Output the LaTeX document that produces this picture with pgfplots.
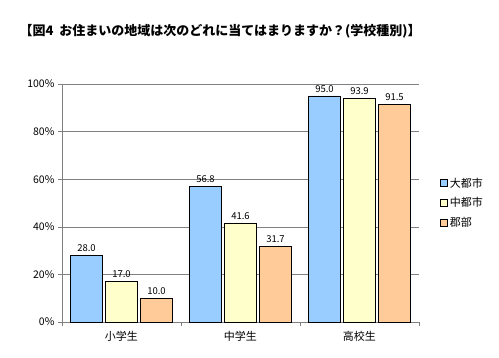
\documentclass[border=0pt]{standalone}
\usepackage{pgfplots}
\pgfplotsset{compat=1.18}
\usepackage{fontspec}
\setmainfont{Noto Sans CJK JP}
\definecolor{cblue}{HTML}{99CCFF}
\definecolor{cyel}{HTML}{FFFFCC}
\definecolor{corg}{HTML}{FFCC99}
\definecolor{gridc}{HTML}{808080}
\begin{document}
\begin{tikzpicture}[x=1pt,y=1pt]
\path[use as bounding box] (-62,-35) rectangle (437,322);
\node[anchor=west,font=\fontsize{13}{15}\selectfont\bfseries] at (-46,291) {【図4\ \ お住まいの地域は次のどれに当てはまりますか？(学校種別)】};
\begin{axis}[
  at={(0,0)}, anchor=south west,
  scale only axis, width=357pt, height=238pt,
  ybar=3pt, bar width=32pt,
  xmin=-0.5, xmax=2.5, ymin=0, ymax=100,
  xtick={0,1,2}, xticklabels={小学生,中学生,高校生},
  major x tick style={draw=none},
  minor xtick={-0.5,0.5,1.5,2.5},
  minor tick length=4pt,
  ytick={0,20,40,60,80,100},
  yticklabels={0\%,20\%,40\%,60\%,80\%,100\%},
  ymajorgrids, grid style={gridc, line width=0.6pt},
  axis x line*=bottom, axis y line*=left,
  axis line style={gridc, line width=0.6pt},
  tick style={gridc, line width=0.6pt},
  tick align=outside, major tick length=4pt,
  x axis line style={-}, y axis line style={-},
  ticklabel style={font=\fontsize{10.5}{12}\selectfont},
  xticklabel style={font=\fontsize{11}{13}\selectfont, yshift=-2pt},
  /pgf/number format/assume math mode=true,
  nodes near coords,
  nodes near coords style={font=\fontsize{9.5}{11}\selectfont, /pgf/number format/fixed, /pgf/number format/fixed zerofill, /pgf/number format/precision=1},
  legend style={at={(1.05,0.5)}, anchor=west, draw=none, fill=none, font=\fontsize{11}{13}\selectfont, row sep=5pt},
  legend cell align=left,
  legend image code/.code={\draw[#1, draw=black] (0pt,-3.5pt) rectangle (7pt,3.5pt);},
]
\addplot[fill=cblue, draw=black, line width=0.8pt] coordinates {(0,28.0) (1,56.8) (2,95.0)};
\addplot[fill=cyel, draw=black, line width=0.8pt] coordinates {(0,17.0) (1,41.6) (2,93.9)};
\addplot[fill=corg, draw=black, line width=0.8pt] coordinates {(0,10.0) (1,31.7) (2,91.5)};
\legend{大都市,中都市,郡部}
\end{axis}
\end{tikzpicture}
\end{document}
